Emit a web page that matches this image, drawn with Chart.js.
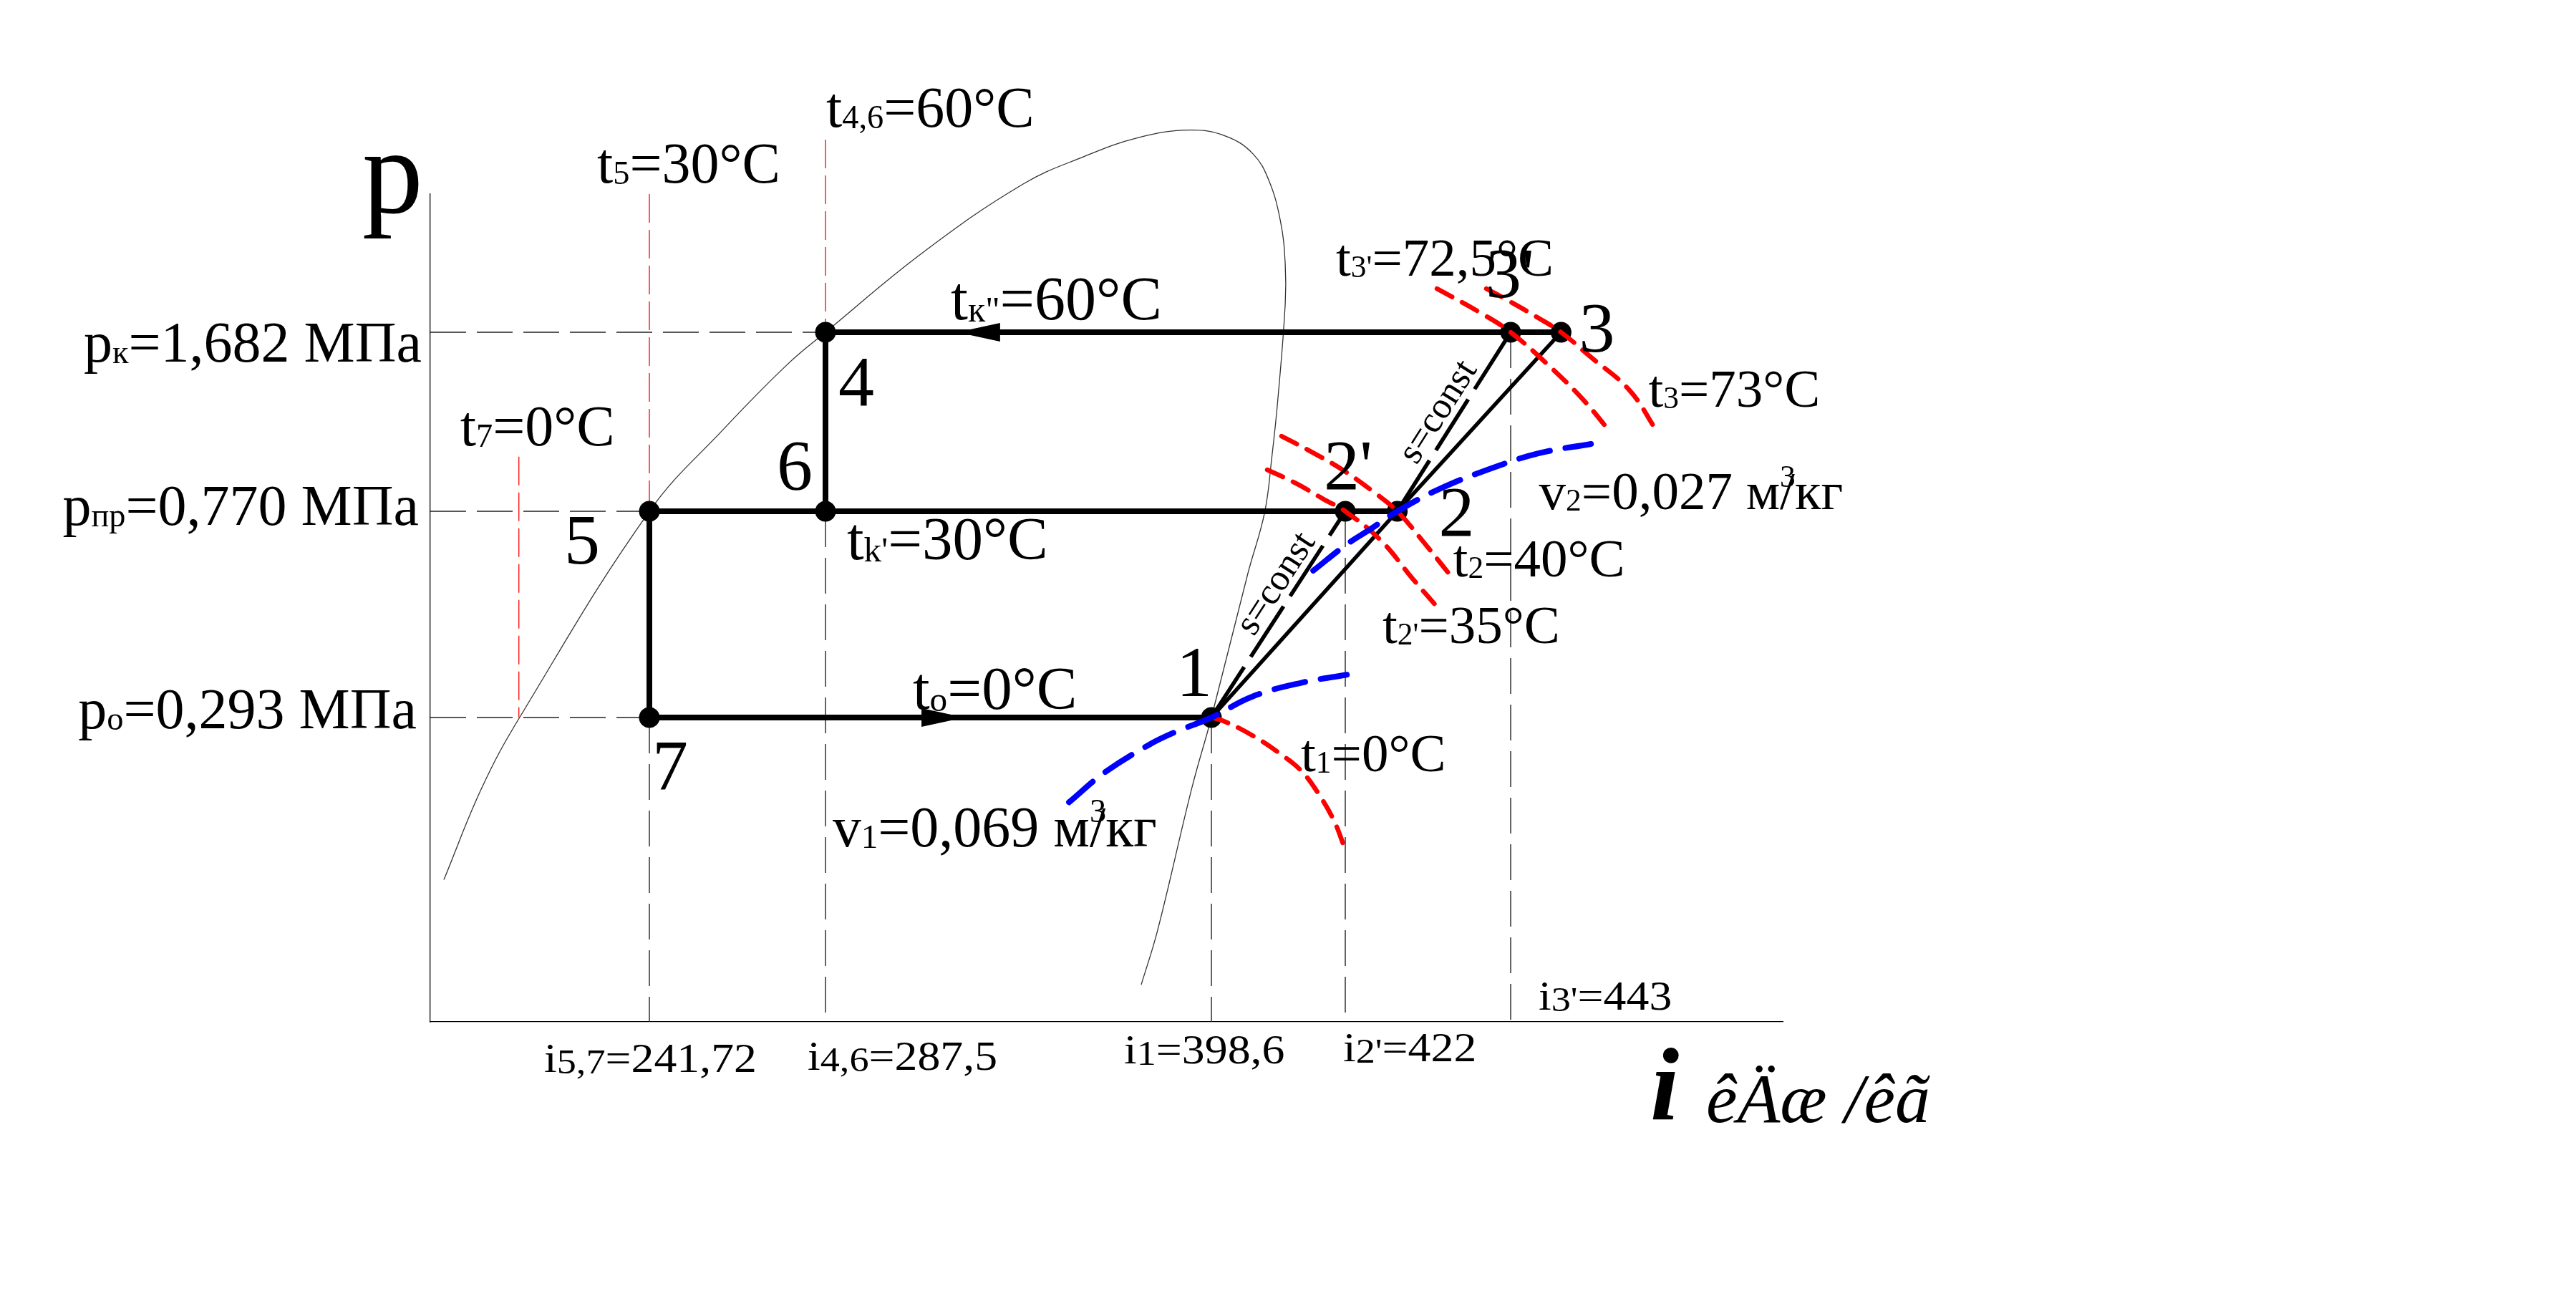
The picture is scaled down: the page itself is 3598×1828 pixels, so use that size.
<!DOCTYPE html>
<html lang="ru">
<head>
<meta charset="utf-8">
<title>p-i диаграмма</title>
<script src="https://cdn.jsdelivr.net/npm/chart.js@4.4.1/dist/chart.umd.min.js"></script>
<style>
html,body{margin:0;padding:0;background:#fff;overflow:hidden;}
#wrap{position:relative;width:3598px;height:1828px;}
</style>
</head>
<body>
<div id="wrap"><canvas id="chart"></canvas></div>
<script>
// ================= DATA =================
const P_K = 1.682, P_PR = 0.770, P_O = 0.293;            // pressure levels, MPa
const pressureLevels = [P_K, P_PR, P_O];
const enthalpyTicks = [241.72, 287.5, 398.6, 422, 443];   // i, kJ/kg
const I_MIN = 184.77, I_MAX = 477.55;
const P_MIN = 0.0704, P_MAX = 3.075;

const pointNames = ['1', '2', "2'", '3', "3'", '4', '5', '6', '7'];
const pointI = [398.6, 428.6, 422, 449.4, 443, 287.5, 241.72, 287.5, 241.72];
const pointP = [0.293, 0.770, 0.770, 1.682, 1.682, 1.682, 0.770, 0.770, 0.293];

// saturation dome
const domeI = [188.3, 198.2, 208.2, 241.72, 260.9, 277.6, 287.5, 315.7, 344.4, 361.7, 377.6, 392.4,
               401.1, 405.9, 408.7, 410.7, 411.5, 411.5, 410.2, 409.2, 407.9, 405.0, 398.6, 393.0, 383.1, 378.4];
const domeP = [0.137, 0.211, 0.295, 0.770, 1.100, 1.462, 1.682, 2.387, 3.212, 3.617, 3.935, 4.066,
               3.960, 3.662, 3.252, 2.721, 2.270, 1.900, 1.250, 0.983, 0.765, 0.577, 0.293, 0.211, 0.108, 0.0838];

// isotherms
const t1I = [398.6, 400.66, 405.69, 410.73, 414.32, 417.18, 420.06, 422.0];
const t1P = [0.293, 0.2884, 0.2697, 0.2467, 0.2281, 0.2062, 0.1803, 0.1577];
const t2I = [410.86, 415.87, 421.50, 425.73, 428.6, 432.09, 435.73];
const t2P = [1.069, 1.001, 0.923, 0.835, 0.770, 0.662, 0.560];
const t2pI = [408.36, 413.37, 418.37, 422.0, 426.55, 430.45, 434.09];
const t2pP = [0.923, 0.870, 0.810, 0.770, 0.671, 0.564, 0.483];
const t3pI = [433.64, 439.36, 443.0, 448.18, 452.36, 455.55];
const t3pP = [2.035, 1.824, 1.682, 1.439, 1.246, 1.093];
const t3I = [439.91, 442.73, 446.36, 449.4, 453.0, 458.09, 461.55];
const t3P = [2.035, 1.930, 1.796, 1.682, 1.517, 1.306, 1.093];

// isochores
const v1I = [357.6, 367.7, 380.7, 387.8, 398.6, 405.7, 414.4, 422.2];
const v1P = [0.197, 0.226, 0.258, 0.273, 0.293, 0.323, 0.345, 0.358];
const v2I = [416.4, 422.1, 425.3, 428.6, 433.9, 440.3, 446.6, 453.2];
const v2P = [0.583, 0.658, 0.710, 0.770, 0.848, 0.926, 0.992, 1.033];

// red temperature guide lines (i, top p, bottom p)
const redGuideI = [241.72, 287.5, 207.8];
const redGuideTop = [P_MAX, 3.90, 0.977];
const redGuideBottom = [P_PR, P_K, P_O];

// flow arrows
const arrowI = [325.4, 327.5];
const arrowP = [P_K, P_O];
const arrowDir = [-1, 1];

// ================= SCALE =================
const LS = Chart.LinearScale;
const KNOTS = {
  x: { values: [I_MIN, ...enthalpyTicks, I_MAX], fracs: [0, 0.16199, 0.29222, 0.57756, 0.67655, 0.79884, 1], log: false },
  y: { values: [P_MIN, P_O, P_PR, P_K, P_MAX], fracs: [0, 0.36765, 0.61678, 0.83304, 1], log: true }
};
class PiecewiseScale extends LS {
  _ks() { const k = KNOTS[this.id]; return k.values.map((v, j) => [k.log ? Math.log10(v) : v, k.fracs[j]]); }
  getPixelForValue(value) {
    const k = KNOTS[this.id]; const t = k.log ? Math.log10(value) : value; const ks = this._ks();
    let a = ks.length - 2;
    for (let j = 0; j < ks.length - 1; j++) { if (t <= ks[j + 1][0]) { a = j; break; } }
    const [v0, f0] = ks[a], [v1, f1] = ks[a + 1];
    return this.getPixelForDecimal(f0 + (t - v0) * (f1 - f0) / (v1 - v0));
  }
  getValueForPixel(pixel) {
    const k = KNOTS[this.id]; const d = this.getDecimalForPixel(pixel); const ks = this._ks();
    let a = ks.length - 2;
    for (let j = 0; j < ks.length - 1; j++) { if (d <= ks[j + 1][1]) { a = j; break; } }
    const [v0, f0] = ks[a], [v1, f1] = ks[a + 1];
    const t = v0 + (d - f0) * (v1 - v0) / (f1 - f0);
    return k.log ? Math.pow(10, t) : t;
  }
}
PiecewiseScale.id = 'piecewise';
PiecewiseScale.defaults = LS.defaults;
Chart.register(PiecewiseScale);

// ================= DATASETS =================
const pts = (is, ps) => is.map((v, k) => ({ x: v, y: ps[k] }));
const PT = n => { const k = pointNames.indexOf(n); return { x: pointI[k], y: pointP[k] }; };
const line = (data, color, width, extra) => Object.assign({
  data, showLine: true, borderColor: color, backgroundColor: color, borderWidth: width,
  pointRadius: 0, pointHoverRadius: 0, tension: 0, clip: false, fill: false
}, extra || {});

const RED = '#ff0000', BLUE = '#0000ff', BLK = '#000000';
const arcOpt = { tension: 0.4, borderDash: [24, 16], borderCapStyle: 'round' };
const isoOpt = { tension: 0.4, borderDash: [44, 22], borderCapStyle: 'round' };
const thinDash = { borderDash: [50, 15] };

const datasets = [
  line(pts(v1I, v1P), BLUE, 8, isoOpt),
  line(pts(v2I, v2P), BLUE, 8, isoOpt),
  line(pts(t1I, t1P), RED, 6.5, arcOpt),
  line(pts(t2I, t2P), RED, 6.5, arcOpt),
  line(pts(t2pI, t2pP), RED, 6.5, arcOpt),
  line(pts(t3pI, t3pP), RED, 6.5, arcOpt),
  line(pts(t3I, t3P), RED, 6.5, arcOpt),
  { data: pts(pointI, pointP), showLine: false, pointRadius: 14.5, pointHoverRadius: 14.5,
    backgroundColor: BLK, borderColor: BLK, borderWidth: 0, clip: false },
  line([PT('4'), PT('3')], BLK, 8),
  line([PT('5'), PT('2')], BLK, 8),
  line([PT('7'), PT('1')], BLK, 8),
  line([PT('4'), PT('6')], BLK, 8),
  line([PT('5'), PT('7')], BLK, 8),
  line([PT('1'), PT('2')], BLK, 5.5),
  line([PT('2'), PT('3')], BLK, 5.5),
  line([PT('1'), PT("2'")], BLK, 5.5, { borderDash: [84, 17] }),
  line([PT('2'), PT("3'")], BLK, 5.5, { borderDash: [84, 17] }),
  // horizontal pressure guides
  line([{ x: I_MIN, y: P_K }, PT('4')], '#222', 1.4, thinDash),
  line([{ x: I_MIN, y: P_PR }, PT('5')], '#222', 1.4, thinDash),
  line([{ x: I_MIN, y: P_O }, PT('7')], '#222', 1.4, thinDash),
  // vertical enthalpy guides
  line([PT('7'), { x: pointI[8], y: P_MIN }], '#222', 1.4, thinDash),
  line([PT('6'), { x: pointI[7], y: P_MIN }], '#222', 1.4, thinDash),
  line([PT('1'), { x: pointI[0], y: P_MIN }], '#222', 1.4, thinDash),
  line([PT("2'"), { x: pointI[2], y: P_MIN }], '#222', 1.4, thinDash),
  line([PT("3'"), { x: pointI[4], y: P_MIN }], '#222', 1.4, thinDash),
  // red temperature guides
  ...redGuideI.map((v, k) => line([{ x: v, y: redGuideTop[k] }, { x: v, y: redGuideBottom[k] }], RED, 1.3, { borderDash: [40, 10] })),
  // saturation curve
  line(pts(domeI, domeP), '#333', 1.3, { tension: 0.4 })
];
datasets.forEach((d, k) => { d.order = k; });

// ================= TEXT =================
const FAM = '"Liberation Serif","Times New Roman",Times,serif';
function parseRich(s) {
  const out = []; let k = 0;
  const isMark = j => (s[j] === '_' || s[j] === '^') && s[j + 1] === '{';
  while (k < s.length) {
    if (isMark(k)) { const e = s.indexOf('}', k + 2); out.push({ t: s.slice(k + 2, e), kind: s[k] === '_' ? 'sub' : 'sup' }); k = e + 1; }
    else { let e = k; while (e < s.length && !isMark(e)) e++; out.push({ t: s.slice(k, e), kind: 'n' }); k = e; }
  }
  return out;
}
function drawRich(ctx, txt, x, y, o) {
  const size = o.size, subS = o.subScale || 0.58, st = o.stretch || 1;
  const font = s => `${o.italic ? 'italic ' : ''}${o.bold ? 'bold ' : ''}${s}px ${FAM}`;
  const parts = parseRich(txt).map(p => {
    const fs = p.kind === 'n' ? size : size * subS; ctx.font = font(fs);
    return { ...p, fs, w: ctx.measureText(p.t).width };
  });
  const total = parts.reduce((a, p) => a + (p.kind === 'sup' ? 0 : p.w), 0);
  ctx.save(); ctx.translate(x, y); ctx.scale(st, 1);
  ctx.fillStyle = '#000'; ctx.textBaseline = 'alphabetic'; ctx.textAlign = 'left';
  let cx = o.align === 'right' ? -total : o.align === 'center' ? -total / 2 : 0;
  for (const p of parts) {
    ctx.font = font(p.fs);
    let dy = 0; if (p.kind === 'sub') dy = size * 0.03; if (p.kind === 'sup') dy = -size * 0.42;
    ctx.fillText(p.t, cx, dy);
    if (p.kind !== 'sup') cx += p.w;
  }
  ctx.restore();
}

const labels = [
  { txt: 'p', ax: 'L', ay: 'T', dx: -10, dy: 26, size: 170, align: 'right' },
  { txt: 'p_{к}=1,682 МПа', ax: 'L', ay: P_K, dx: -12, dy: 41, size: 80, align: 'right' },
  { txt: 'p_{пр}=0,770 МПа', ax: 'L', ay: P_PR, dx: -16, dy: 19, size: 80, align: 'right' },
  { txt: 'p_{о}=0,293 МПа', ax: 'L', ay: P_O, dx: -19, dy: 15, size: 80, align: 'right' },
  { txt: 't_{5}=30°C', ax: 241.72, ay: 'T', dx: -73, dy: -16, size: 80 },
  { txt: 't_{4,6}=60°C', ax: 287.5, ay: 'T', dx: 1, dy: -94, size: 80 },
  { txt: 't_{7}=0°C', ax: 207.8, ay: P_PR, dx: -82, dy: -92, size: 80 },
  { txt: 't_{к"}=60°C', ax: 287.5, ay: P_K, dx: 175, dy: -18, size: 86 },
  { txt: '4', pt: '4', dx: 18, dy: 102, size: 100 },
  { txt: '6', pt: '6', dx: -68, dy: -31, size: 100 },
  { txt: "t_{k'}=30°C", pt: '6', dx: 30, dy: 67, size: 85 },
  { txt: '5', pt: '5', dx: -119, dy: 73, size: 100 },
  { txt: '7', pt: '7', dx: 4, dy: 100, size: 100 },
  { txt: 't_{о}=0°C', pt: '7', dx: 368, dy: -12, size: 85 },
  { txt: '1', pt: '1', dx: -49, dy: -30, size: 100 },
  { txt: 't_{1}=0°C', pt: '1', dx: 125, dy: 75, size: 75 },
  { txt: 'v_{1}=0,069 м^{3}/кг', pt: '1', dx: -529, dy: 180, size: 80 },
  { txt: "2'", pt: "2'", dx: -30, dy: -31, size: 100 },
  { txt: '2', pt: '2', dx: 58, dy: 34, size: 100 },
  { txt: 'v_{2}=0,027 м^{3}/кг', pt: '2', dx: 198, dy: -3, size: 75 },
  { txt: 't_{2}=40°C', pt: '2', dx: 78, dy: 91, size: 75 },
  { txt: "t_{2'}=35°C", pt: "2'", dx: 52, dy: 184, size: 75 },
  { txt: "t_{3'}=72,5°C", pt: "3'", dx: -244, dy: -79, size: 75 },
  { txt: "3'", pt: "3'", dx: -35, dy: -49, size: 100 },
  { txt: '3', pt: '3', dx: 25, dy: 27, size: 100 },
  { txt: 't_{3}=73°C', pt: '3', dx: 122, dy: 104, size: 75 },
  { txt: 'i_{5,7}=241,72', ax: enthalpyTicks[0], ay: 'B', dx: -147, dy: 70, size: 58, stretch: 1.1, subScale: 0.85 },
  { txt: 'i_{4,6}=287,5', ax: enthalpyTicks[1], ay: 'B', dx: -25, dy: 67, size: 58, stretch: 1.1, subScale: 0.85 },
  { txt: 'i_{1}=398,6', ax: enthalpyTicks[2], ay: 'B', dx: -122, dy: 58, size: 58, stretch: 1.1, subScale: 0.85 },
  { txt: "i_{2'}=422", ax: enthalpyTicks[3], ay: 'B', dx: -3, dy: 55, size: 58, stretch: 1.1, subScale: 0.85 },
  { txt: "i_{3'}=443", ax: enthalpyTicks[4], ay: 'B', dx: 39, dy: -17, size: 58, stretch: 1.1, subScale: 0.85 },
  { txt: 'i', ax: 'R', ay: 'B', dx: -185, dy: 136, size: 145, bold: true, italic: true },
  { txt: 'êÄæ /êã', ax: 'R', ay: 'B', dx: -107, dy: 140, size: 98, italic: true }
];
const sConstLabels = [
  { from: '1', to: "2'", frac: 0.6, off: 25 },
  { from: '2', to: "3'", frac: 0.5, off: 25 }
];

function axPix(chart, v) { const ca = chart.chartArea; return v === 'L' ? ca.left : v === 'R' ? ca.right : chart.scales.x.getPixelForValue(v); }
function ayPix(chart, v) { const ca = chart.chartArea; return v === 'T' ? ca.top : v === 'B' ? ca.bottom : chart.scales.y.getPixelForValue(v); }

const annotPlugin = {
  id: 'annot',
  afterDatasetsDraw(chart) {
    const ctx = chart.ctx, xs = chart.scales.x, ys = chart.scales.y;
    ctx.save(); ctx.fillStyle = '#000';
    arrowI.forEach((v, k) => {
      const x = xs.getPixelForValue(v), y = ys.getPixelForValue(arrowP[k]), d = arrowDir[k];
      ctx.beginPath(); ctx.moveTo(x, y); ctx.lineTo(x - d * 60, y - 13); ctx.lineTo(x - d * 60, y + 13); ctx.closePath(); ctx.fill();
    });
    ctx.restore();
  },
  afterDraw(chart) {
    const ctx = chart.ctx, xs = chart.scales.x, ys = chart.scales.y;
    for (const L of labels) {
      let x, y;
      if (L.pt) { const p = PT(L.pt); x = xs.getPixelForValue(p.x); y = ys.getPixelForValue(p.y); }
      else { x = axPix(chart, L.ax); y = ayPix(chart, L.ay); }
      drawRich(ctx, L.txt, x + L.dx, y + L.dy, L);
    }
    for (const S of sConstLabels) {
      const a = PT(S.from), b = PT(S.to);
      const x0 = xs.getPixelForValue(a.x), y0 = ys.getPixelForValue(a.y);
      const x1 = xs.getPixelForValue(b.x), y1 = ys.getPixelForValue(b.y);
      const ang = Math.atan2(y1 - y0, x1 - x0);
      const cx = x0 + S.frac * (x1 - x0) + S.off * Math.sin(ang);
      const cy = y0 + S.frac * (y1 - y0) - S.off * Math.cos(ang);
      ctx.save(); ctx.translate(cx, cy); ctx.rotate(ang);
      ctx.font = `52px ${FAM}`; ctx.fillStyle = '#000'; ctx.textAlign = 'center'; ctx.textBaseline = 'middle';
      ctx.fillText('s=const', 0, 0); ctx.restore();
    }
  }
};

new Chart(document.getElementById('chart'), {
  type: 'scatter',
  data: { datasets },
  options: {
    responsive: true, maintainAspectRatio: false, animation: false, devicePixelRatio: 1, events: [],
    layout: { padding: { left: 601, top: 271, right: 1108, bottom: 401 } },
    elements: { line: { capBezierPoints: false } },
    plugins: { legend: { display: false }, tooltip: { enabled: false } },
    scales: {
      x: { type: 'piecewise', position: 'bottom', min: I_MIN, max: I_MAX,
           grid: { display: false, drawTicks: false }, ticks: { display: false },
           border: { display: true, color: '#000', width: 1.3 } },
      y: { type: 'piecewise', position: 'left', min: P_MIN, max: P_MAX,
           grid: { display: false, drawTicks: false }, ticks: { display: false },
           border: { display: true, color: '#000', width: 1.3 } }
    }
  },
  plugins: [annotPlugin]
});
</script>
</body>
</html>
